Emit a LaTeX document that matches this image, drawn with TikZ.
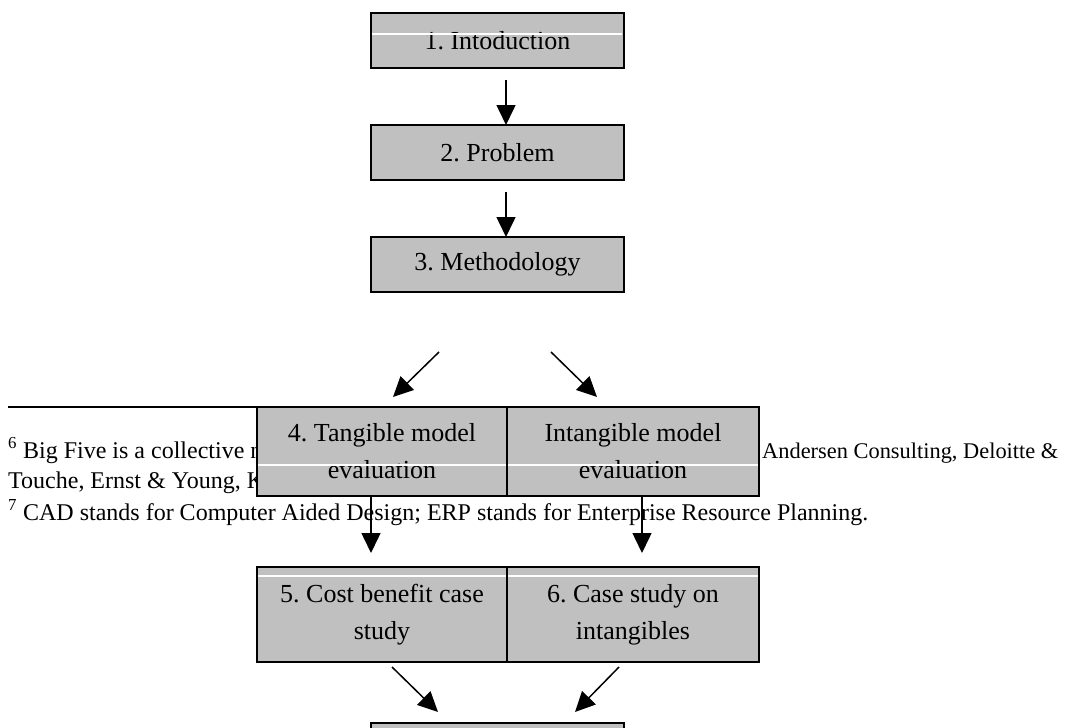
\documentclass[tikz,border=0pt]{standalone}
\usepackage{fontspec}
\setmainfont{Liberation Serif}
\usetikzlibrary{arrows.meta}
\definecolor{cellgray}{RGB}{192,192,192}
\frenchspacing
\begin{document}
\begin{tikzpicture}[x=1pt,y=-1pt,
  box/.style={draw=black, line width=1.8pt, fill=cellgray, inner sep=0pt,
    align=center, font=\fontsize{26}{37}\selectfont},
  flow/.style={line width=1.5pt, -{Triangle[length=20pt,width=19pt]}},
  note/.style={anchor=base west, inner sep=0pt, font=\fontsize{24}{29}\selectfont},
  seam/.style={white, line width=1.2pt}]
\useasboundingbox (0,0) rectangle (1080,728);
\clip (0,0) rectangle (1080,728);

% footnote block behind the chart
\draw[line width=1.5pt] (8,407) -- (370,407);
\node[note] (fn6a) at (8,458) {\textsuperscript{6} Big Five is a collective n};
\node[note, font=\fontsize{22.4}{29}\selectfont] (fn6b) at (762,458) {Andersen Consulting, Deloitte \&};
\node[note] (fn6c) at (8,488) {Touche, Ernst \& Young, K};
\node[note] (fn7) at (8,520) {\textsuperscript{7} CAD stands for Computer Aided Design; ERP stands for Enterprise Resource Planning.};

% chart boxes
\node[box, minimum width=253pt, minimum height=55pt] (intro) at (497.5,40.5) {1. Intoduction};
\node[box, minimum width=253pt, minimum height=55pt] (problem) at (497.5,152.5) {2. Problem};
\node[box, minimum width=253pt, minimum height=55pt] (method) at (497.5,264.5) {3. Methodology};
\node[box, minimum width=250pt, minimum height=89pt] (tangible) at (382,451.5) {4. Tangible model\\evaluation};
\node[box, minimum width=252pt, minimum height=89pt] (intangible) at (633,451.5) {Intangible model\\evaluation};
\node[box, minimum width=250pt, minimum height=95pt] (costben) at (382,614.5) {5. Cost benefit case\\study};
\node[box, minimum width=252pt, minimum height=95pt] (casestudy) at (633,614.5) {6. Case study on\\intangibles};
\node[box, minimum width=253pt, minimum height=55pt] (final) at (497.5,750.5) {};

% thin white row seams inside the cells
\draw[seam] (372,34) -- (622,34);
\draw[seam] (258,465) -- (506,465);
\draw[seam] (508,465) -- (758,465);
\draw[seam] (258,576) -- (506,576);
\draw[seam] (508,576) -- (758,576);

% arrow end points
\coordinate (a12s) at (506,80);  \coordinate (a12e) at (506,125);
\coordinate (a23s) at (506,192); \coordinate (a23e) at (506,237);
\coordinate (a34ls) at (439,352); \coordinate (a34le) at (393,397);
\coordinate (a34rs) at (551,352); \coordinate (a34re) at (597,397);
\coordinate (a45s) at (371,496); \coordinate (a45e) at (371,553);
\coordinate (a46s) at (642,496); \coordinate (a46e) at (642,553);
\coordinate (a57s) at (392,667); \coordinate (a57e) at (438,712);
\coordinate (a67s) at (619,667); \coordinate (a67e) at (575,712);

\draw[flow] (a12s) -- (a12e);
\draw[flow] (a23s) -- (a23e);
\draw[flow] (a34ls) -- (a34le);
\draw[flow] (a34rs) -- (a34re);
\draw[flow] (a45s) -- (a45e);
\draw[flow] (a46s) -- (a46e);
\draw[flow] (a57s) -- (a57e);
\draw[flow] (a67s) -- (a67e);
\end{tikzpicture}
\end{document}
